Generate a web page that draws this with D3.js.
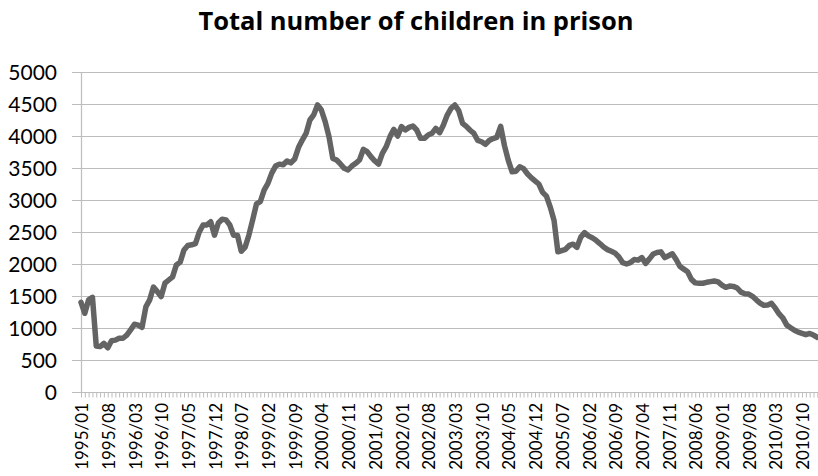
<!DOCTYPE html>
<html>
<head>
<meta charset="utf-8">
<script src="https://cdn.jsdelivr.net/npm/d3@7"></script>
<style>
  html, body { margin: 0; padding: 0; background: #fff; }
  svg { display: block; }
  text { font-family: Lato, "Open Sans", sans-serif; fill: #000; }
</style>
</head>
<body>
<div id="chart"></div>
<script>
// ---- data ----
const title = "Total number of children in prison";
const startYear = 1995, startMonth = 1, monthCount = 194;
const months = [];
for (let k = 0; k < monthCount; k++) {
  const m = startMonth - 1 + k;
  const yy = startYear + Math.floor(m / 12);
  const mm = (m % 12) + 1;
  months.push(yy + "/" + (mm < 10 ? "0" + mm : mm));
}
const children = [
  1400,1230,1440,1480,720,710,760,690,800,810,840,840,
  890,970,1060,1045,1010,1330,1440,1640,1570,1490,1700,1750,
  1800,1985,2030,2220,2290,2300,2320,2500,2610,2610,2660,2450,
  2640,2700,2690,2610,2450,2450,2200,2260,2450,2690,2940,2975,
  3155,3260,3420,3530,3560,3550,3610,3580,3640,3820,3937,4040,
  4250,4330,4485,4406,4224,3990,3650,3625,3563,3495,3470,3530,
  3573,3625,3790,3755,3677,3610,3563,3730,3833,3990,4104,4000,
  4146,4094,4135,4156,4094,3964,3964,4016,4042,4120,4052,4172,
  4328,4432,4484,4396,4198,4150,4090,4040,3930,3910,3870,3930,
  3960,3980,4150,3850,3620,3440,3450,3520,3490,3410,3350,3300,
  3250,3120,3060,2890,2680,2190,2210,2230,2290,2310,2260,2420,
  2490,2440,2410,2370,2320,2265,2225,2200,2170,2110,2020,2000,
  2020,2070,2060,2100,2010,2080,2156,2180,2190,2100,2130,2160,
  2070,1960,1920,1880,1760,1705,1700,1700,1714,1725,1735,1720,
  1670,1635,1655,1650,1625,1560,1535,1530,1495,1440,1390,1355,
  1360,1385,1310,1220,1155,1045,1005,965,935,915,895,915,
  890,855
];
const yTicks = [0,500,1000,1500,2000,2500,3000,3500,4000,4500,5000];
const labelStep = 7;

// ---- layout ----
const W = 818, H = 476;
const svg = d3.select("#chart").append("svg").attr("width", W).attr("height", H);

const x = d3.scalePoint().domain(months).range([81, 817.3]);
const y = d3.scaleLinear().domain([0, 5000]).range([392, 72]);

// gridlines
svg.append("g").selectAll("line").data(yTicks).join("line")
  .attr("x1", 72).attr("x2", W)
  .attr("y1", d => Math.round(y(d)) + 0.5).attr("y2", d => Math.round(y(d)) + 0.5)
  .attr("stroke", "#bdbdbd").attr("stroke-width", 1.2);

// y axis line
svg.append("line").attr("x1", 81.5).attr("x2", 81.5).attr("y1", 72).attr("y2", 392)
  .attr("stroke", "#bdbdbd").attr("stroke-width", 1.2);

// y labels
svg.append("g").selectAll("text").data(yTicks).join("text")
  .attr("x", 57).attr("y", d => y(d)).attr("dy", "0.36em")
  .attr("text-anchor", "end").style("font-size", "21px")
  .text(d => d);

// x axis with monthly ticks
const xAxis = d3.axisBottom(x).tickSize(5).tickFormat("");
const gx = svg.append("g").attr("transform", "translate(0,392.5)").call(xAxis);
gx.select(".domain").attr("stroke", "#bdbdbd").attr("stroke-width", 1.2).attr("d", "M72,0H" + W);
gx.selectAll(".tick line").attr("stroke", "#bdbdbd").attr("stroke-width", 1);

// x labels
svg.append("g").selectAll("text")
  .data(months.filter((d, k) => k % labelStep === 0)).join("text")
  .attr("transform", d => "translate(" + (x(d) + 1) + ",403) rotate(-90)")
  .attr("dy", "0.36em").attr("text-anchor", "end")
  .style("font-size", "17px")
  .text(d => d);

// line
const line = d3.line().x((d, k) => x(months[k])).y(d => y(d));
svg.append("path").datum(children)
  .attr("d", line).attr("fill", "none")
  .attr("stroke", "#646464").attr("stroke-width", 5.5)
  .attr("stroke-linejoin", "round").attr("stroke-linecap", "round");

// title
svg.append("text").attr("x", 416).attr("y", 30)
  .attr("text-anchor", "middle")
  .style("font-family", "'Open Sans', Lato, sans-serif")
  .style("font-size", "25.5px").style("font-weight", "bold")
  .text(title);
</script>
</body>
</html>
